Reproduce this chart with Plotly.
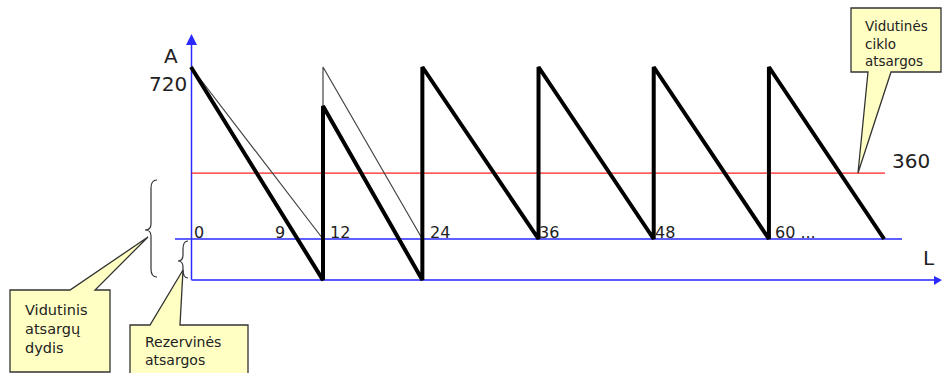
import plotly.graph_objects as go

# ---- data (axis units: months on x, units on y; 0 = reserve level) ----
cycle_x = [0, 13.75, 13.75, 24.1, 24.1, 36.2, 36.2, 48.2, 48.2, 60.2, 60.2, 72.2]
actual_y = [720, -172, 557, -172, 720, 0, 720, 0, 720, 0, 720, 0]
plan_x = [0, 13.75, 13.75, 24.1]
plan_y = [720, 0, 720, 0]
reserve_level = 0
floor_level = -172
avg_level = 276
avg_label = "360"
peak_label = "720"
tick_pos = [0.75, 9.2, 14.9, 25.3, 36.7, 48.75, 61.25]
tick_text = ["0", "9", "12", "24", "36", "48", "60 ..."]

# ---- pixel <-> axis mapping ----
W, H = 942, 373
X0PX, XPX = 191.0, 9.6          # px of x=0, px per month
Y0PX, YPX = 239.0, 172.0 / 720  # px of y=0, px per unit


def dx(px):
    return (px - X0PX) / XPX


def dy(py):
    return (Y0PX - py) / YPX


fig = go.Figure()

BLUE = "#2a2aff"

# axes lines
fig.add_trace(go.Scatter(x=[dx(191.5), dx(191.5)], y=[floor_level, dy(40)], mode="lines",
                         line=dict(color=BLUE, width=1.5), hoverinfo="skip"))
fig.add_trace(go.Scatter(x=[dx(191.5), dx(936)], y=[floor_level, floor_level], mode="lines",
                         line=dict(color="#5a5aff", width=2), hoverinfo="skip"))
fig.add_trace(go.Scatter(x=[dx(175), dx(902)], y=[reserve_level, reserve_level], mode="lines",
                         line=dict(color=BLUE, width=1.5), hoverinfo="skip"))
fig.add_trace(go.Scatter(x=[dx(191.5), dx(885)], y=[avg_level, avg_level], mode="lines",
                         line=dict(color="#ff2020", width=1.2), hoverinfo="skip"))

# planned (thin) and actual (thick) inventory
fig.add_trace(go.Scatter(x=plan_x, y=plan_y, mode="lines",
                         line=dict(color="#444444", width=1.2), hoverinfo="skip"))
fig.add_trace(go.Scatter(x=cycle_x, y=actual_y, mode="lines",
                         line=dict(color="black", width=4), hoverinfo="skip"))

# arrow heads
shapes = []
shapes.append(dict(type="path", xref="x", yref="y", line=dict(width=0), fillcolor=BLUE,
                   path=f"M {dx(191.5)} {dy(34)} L {dx(186)} {dy(45)} L {dx(197)} {dy(45)} Z"))
shapes.append(dict(type="path", xref="x", yref="y", line=dict(width=0), fillcolor=BLUE,
                   path=f"M {dx(942)} {floor_level} L {dx(934)} {dy(276)} L {dx(934)} {dy(285)} Z"))


def P(px, py):
    return f"{dx(px)} {dy(py)}"


# braces
def brace(xc, ytop, ybot, ymid, w):
    return (f"M {P(xc + w, ytop)} Q {P(xc, ytop)} {P(xc, ytop + 8)} "
            f"L {P(xc, ymid - 6)} Q {P(xc, ymid)} {P(xc - w, ymid)} "
            f"Q {P(xc, ymid)} {P(xc, ymid + 6)} L {P(xc, ybot - 8)} "
            f"Q {P(xc, ybot)} {P(xc + w, ybot)}")


shapes.append(dict(type="path", xref="x", yref="y", line=dict(color="#333333", width=1.2),
                   path=brace(151, 180, 277, 230, 6)))
shapes.append(dict(type="path", xref="x", yref="y", line=dict(color="#333333", width=1.2),
                   path=brace(183, 241, 278, 261, 5)))

# callout boxes
BOX = "#ffffc4"
callouts = [
    [(10, 290), (70, 290), (148, 237), (95, 290), (110, 290), (110, 372), (10, 372)],
    [(130, 325), (150, 325), (183, 270), (180, 325), (248, 325), (248, 380), (130, 380)],
    [(851, 8), (941, 8), (941, 72), (891, 72), (858, 173), (868, 72), (851, 72)],
]
for pts in callouts:
    path = "M " + " L ".join(P(a, b) for a, b in pts) + " Z"
    shapes.append(dict(type="path", xref="x", yref="y", fillcolor=BOX,
                       line=dict(color="#333333", width=1.3), path=path))

annotations = []
FONT = "DejaVu Sans"
for xp, t in zip(tick_pos, tick_text):
    annotations.append(dict(x=xp, y=dy(232), text=t, showarrow=False, xanchor="left",
                            font=dict(family=FONT, size=16, color="#222"), xshift=-6))
annotations += [
    dict(x=dx(171), y=dy(56), text="A", showarrow=False, font=dict(family=FONT, size=20, color="#222")),
    dict(x=dx(168), y=dy(84), text=peak_label, showarrow=False, font=dict(family=FONT, size=20, color="#222")),
    dict(x=dx(911), y=dy(161), text=avg_label, showarrow=False, font=dict(family=FONT, size=20, color="#222")),
    dict(x=dx(929), y=dy(258), text="L", showarrow=False, font=dict(family=FONT, size=20, color="#222")),
    dict(x=dx(23), y=dy(300), text="Vidutinis<br>atsargų<br>dydis", showarrow=False, xanchor="left",
         yanchor="top", align="left", font=dict(family=FONT, size=14.5, color="#222")),
    dict(x=dx(143), y=dy(332), text="Rezervinės<br>atsargos", showarrow=False, xanchor="left",
         yanchor="top", align="left", font=dict(family=FONT, size=14, color="#222")),
    dict(x=dx(863), y=dy(16), text="Vidutinės<br>ciklo<br>atsargos", showarrow=False, xanchor="left",
         yanchor="top", align="left", font=dict(family=FONT, size=13.5, color="#222")),
]

fig.update_layout(
    width=W, height=H, margin=dict(l=0, r=0, t=0, b=0),
    paper_bgcolor="white", plot_bgcolor="white", showlegend=False,
    xaxis=dict(range=[dx(0), dx(W)], visible=False, fixedrange=True),
    yaxis=dict(range=[dy(H), dy(0)], visible=False, fixedrange=True),
    shapes=shapes, annotations=annotations,
)

fig.write_html("out.html", config={"displayModeBar": False},
               post_script="document.body.style.margin='0';document.body.style.overflow='hidden';")
